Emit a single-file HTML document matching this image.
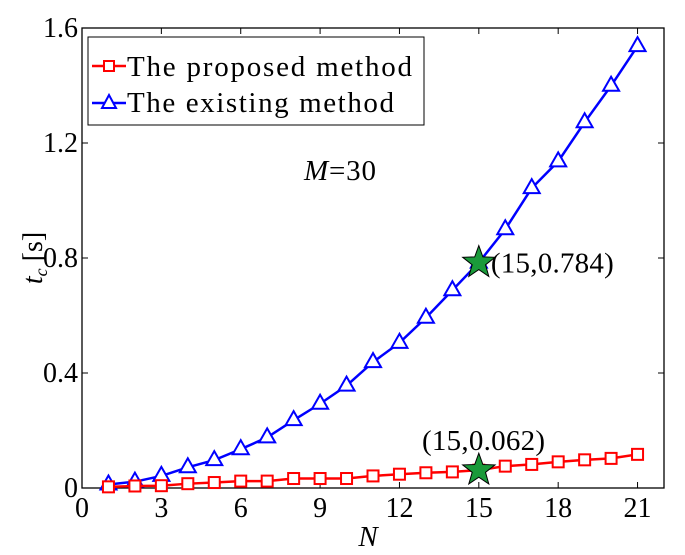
<!DOCTYPE html>
<html><head><meta charset="utf-8"><style>
html,body{margin:0;padding:0;background:#fff;}
svg text{font-family:"Liberation Serif",serif;}
</style></head><body>
<svg id="chart" width="685" height="550" xmlns="http://www.w3.org/2000/svg">
<g id="grid"></g>
<g id="series"></g>
<g id="overlay"></g>
</svg>
<script>
const xTicks=[0,3,6,9,12,15,18,21];
const yTicks=[0,0.4,0.8,1.2,1.6];
const yTickLabels=["0","0.4","0.8","1.2","1.6"];
const nValues=[1,2,3,4,5,6,7,8,9,10,11,12,13,14,15,16,17,18,19,20,21];
const existing=[0.012,0.022,0.042,0.072,0.097,0.135,0.176,0.236,0.293,0.356,0.438,0.505,0.592,0.688,0.784,0.9,1.043,1.136,1.272,1.399,1.537];
const proposed=[0.004,0.007,0.008,0.015,0.019,0.024,0.024,0.033,0.033,0.033,0.042,0.048,0.053,0.056,0.062,0.076,0.082,0.091,0.098,0.103,0.117];
const L=82,R=664,T=28,B=488,XMAX=22,YMAX=1.6;
const xs=v=>L+v/XMAX*(R-L);
const ys=v=>B-v/YMAX*(B-T);
const NS="http://www.w3.org/2000/svg";
function mk(tag,parent,attrs){const e=document.createElementNS(NS,tag);for(const k in attrs)e.setAttribute(k,attrs[k]);parent.appendChild(e);return e;}
const g=document.getElementById('grid'),s=document.getElementById('series'),o=document.getElementById('overlay');
let frame=mk('rect',g,{x:L,y:T,width:R-L,height:B-T,fill:'none',stroke:'#000','stroke-width':1.3});


xTicks.forEach(v=>{
 const x=xs(v);
 mk('line',g,{x1:x,x2:x,y1:B,y2:B-6,stroke:'#000'});
 mk('line',g,{x1:x,x2:x,y1:T,y2:T+6,stroke:'#000'});
 const t=mk('text',g,{x:x,y:B+29,'font-size':28,'text-anchor':'middle'});t.textContent=v;
 
 
});
yTicks.forEach((v,i)=>{
 const y=ys(v);
 mk('line',g,{x1:L,x2:L+6,y1:y,y2:y,stroke:'#000'});
 mk('line',g,{x1:R,x2:R-6,y1:y,y2:y,stroke:'#000'});
 const t=mk('text',g,{x:L-4,y:y+9,'font-size':28,'text-anchor':'end'});t.textContent=yTickLabels[i];
 
 
});
function drawSeries(vals,color,marker,name){
 const pts=nValues.map((n,i)=>xs(n)+','+ys(vals[i])).join(' ');
 const pl=mk('polyline',s,{points:pts,fill:'none',stroke:color,'stroke-width':2.5});
 
 
 nValues.forEach((n,i)=>{
  const x=xs(n),y=ys(vals[i]);let m;
  if(marker==='sq')m=mk('rect',s,{x:x-5.5,y:y-5.5,width:11,height:11,fill:'#fff',stroke:color,'stroke-width':2});
  else m=mk('polygon',s,{points:`${x},${y-9} ${x-8},${y+5} ${x+8},${y+5}`,fill:'#fff',stroke:color,'stroke-width':2});
  
  
 });
}
drawSeries(existing,'#0000ff','tri','existing-method');
drawSeries(proposed,'#ff0000','sq','proposed-method');
function star(cx,cy,name){
 let p=[];for(let k=0;k<10;k++){const r=k%2?7:17,a=-Math.PI/2+k*Math.PI/5;p.push((cx+r*Math.cos(a)).toFixed(1)+','+(cy+r*Math.sin(a)).toFixed(1));}
 const e=mk('polygon',o,{points:p.join(' '),fill:'#1a9a3a',stroke:'#000','stroke-width':1});
 
 
}
star(xs(nValues[14]),ys(existing[14]),'highlight-star-existing');
star(xs(nValues[14]),ys(proposed[14]),'highlight-star-proposed');
let a1=mk('text',o,{x:xs(15)+12,y:ys(existing[14])+10,'font-size':29,textLength:123});a1.textContent='(15,0.784)';


let a2=mk('text',o,{x:422,y:450,'font-size':29,textLength:123});a2.textContent='(15,0.062)';


let m30=mk('text',o,{x:304,y:180,'font-size':29,textLength:72});m30.innerHTML='<tspan font-style="italic">M</tspan>=30';


// legend
let lg=mk('g',o,{});


mk('rect',lg,{x:88,y:37,width:336,height:88,fill:'#fff',stroke:'#000','stroke-width':1});
mk('line',lg,{x1:92,x2:126,y1:66,y2:66,stroke:'#ff0000','stroke-width':2.5});
mk('rect',lg,{x:104,y:61,width:10,height:10,fill:'#fff',stroke:'#ff0000','stroke-width':2});
let l1=mk('text',lg,{x:127,y:76,'font-size':29,textLength:285});l1.textContent='The proposed method';


mk('line',lg,{x1:92,x2:126,y1:103,y2:103,stroke:'#0000ff','stroke-width':2.5});
mk('polygon',lg,{points:'109,95 102,108 116,108',fill:'#fff',stroke:'#0000ff','stroke-width':2});
let l2=mk('text',lg,{x:127,y:112,'font-size':29,textLength:267});l2.textContent='The existing method';


let xl=mk('text',o,{x:368,y:546,'font-size':29,'font-style':'italic','text-anchor':'middle'});xl.textContent='N';


let yl=mk('text',o,{x:0,y:0,'font-size':28,'text-anchor':'middle',transform:'translate(42,258) rotate(-90)'});
yl.innerHTML='<tspan font-style="italic">t</tspan><tspan font-style="italic" font-size="18" baseline-shift="-5">c</tspan><tspan> [s]</tspan>';


</script>
</body></html>
